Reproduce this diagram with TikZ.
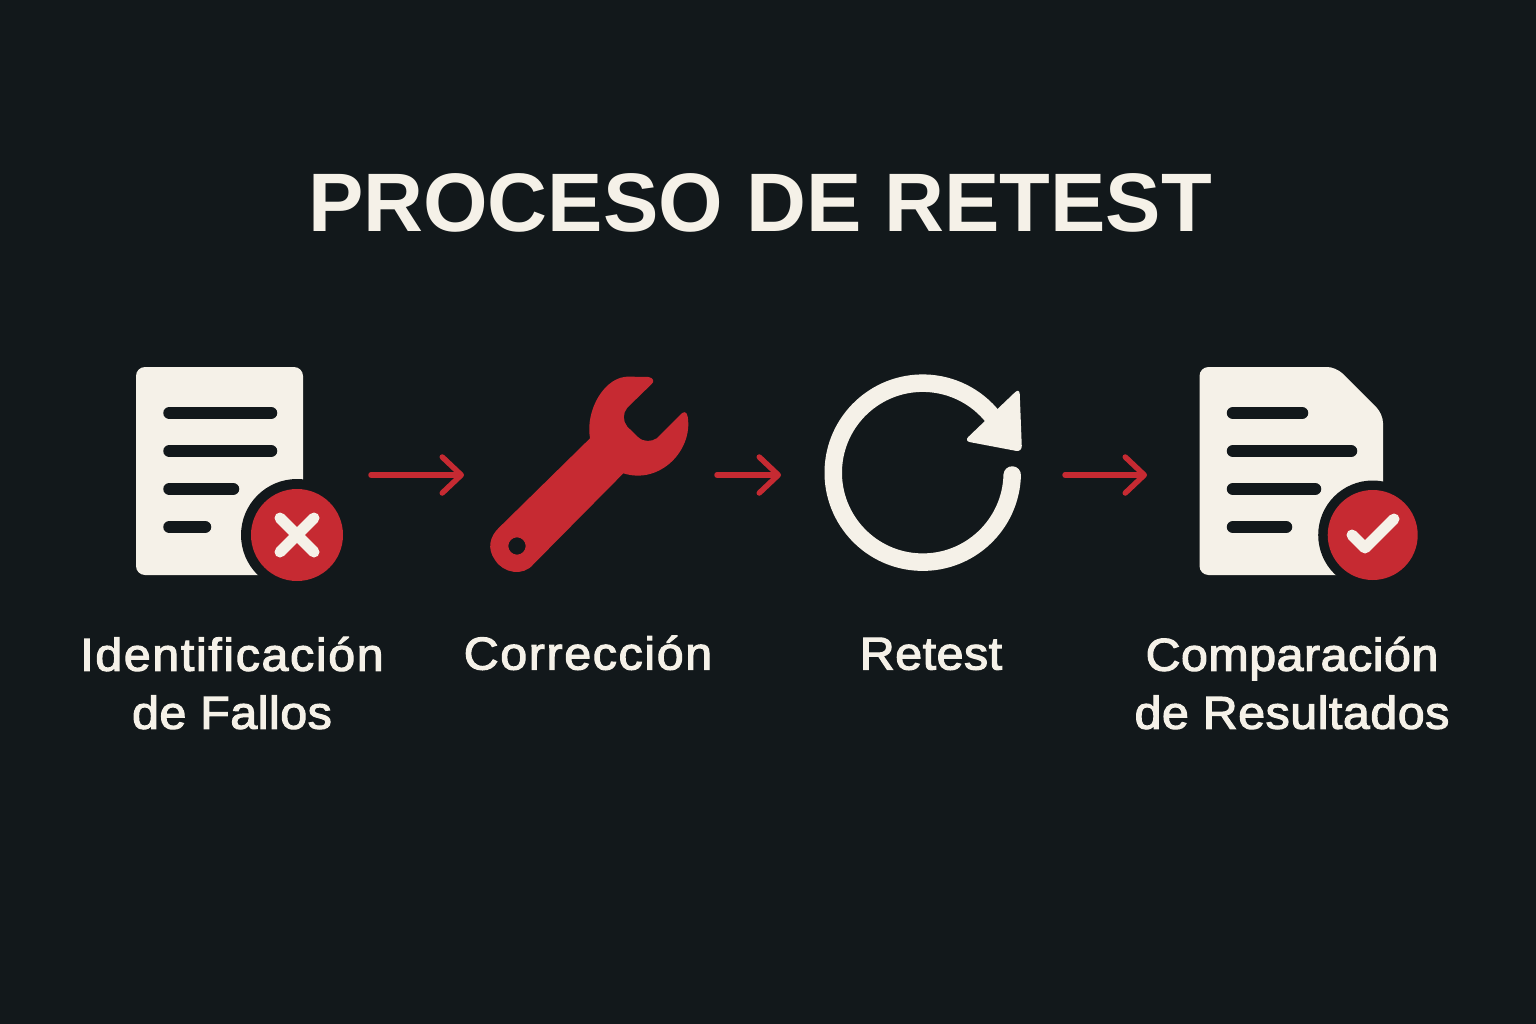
\documentclass[tikz,border=0pt]{standalone}
\usepackage{fontspec}
\setmainfont[FakeBold=2.5,FakeStretch=1.05,LetterSpace=1.2]{Liberation Sans}
\newfontfamily\widelabel[FakeBold=2.5,FakeStretch=1.05,LetterSpace=3.6]{Liberation Sans}
\newfontfamily\titlefont{Liberation Sans Bold}
\usetikzlibrary{arrows.meta}
\definecolor{bgc}{HTML}{12181B}
\definecolor{cream}{HTML}{F5F1E8}
\definecolor{redc}{HTML}{C62A32}
\tikzset{
  paper/.style={fill=cream,draw=none},
  txtline/.style={line width=12.5pt,line cap=round,draw=bgc},
  badge/.style={fill=redc,draw=none},
  halo/.style={fill=bgc,draw=none},
  glyph/.style={line width=11pt,line cap=round,line join=round,draw=cream},
  flow/.style={draw=redc,line width=5.5pt,line cap=round,-{Straight Barb[length=19pt,width=36pt,round]}},
  lbl/.style={text=cream,font=\fontsize{46}{58}\selectfont,align=center,inner sep=0pt},
  ttl/.style={text=cream,font=\fontsize{83}{90}\titlefont,inner sep=0pt,anchor=base}
}
\begin{document}
\begin{tikzpicture}[x=1pt,y=-1pt]
\useasboundingbox (0,0) rectangle (1536,1024);
\fill[bgc] (0,0) rectangle (1536,1024);
\node[ttl] (title) at (760,232) {PROCESO DE RETEST};
% document with cross
\fill[paper,rounded corners=9pt] (136,367) rectangle (303,575);
\fill[halo] (297,535) circle (56);
\fill[bgc] (303,535) rectangle (360,590);
\fill[bgc] (255,575.5) rectangle (310,590);
\draw[txtline] (169.5,413) -- (271,413);
\draw[txtline] (169.5,451) -- (271,451);
\draw[txtline] (169.5,489) -- (233,489);
\draw[txtline] (169.5,527) -- (205,527);
\fill[badge] (297,535) circle (46);
\draw[glyph] (280,518) -- (314,552);
\draw[glyph] (314,518) -- (280,552);
% wrench
\begin{scope}[shift={(470,360)},scale=1/3]
\fill[redc,even odd rule]
  (360,235) .. controls (345,150) and (405,45) .. (480,50)
  -- (535,51) .. controls (552,53) and (553,66) .. (545,72)
  -- (472,143) .. controls (458,160) and (458,183) .. (472,200)
  -- (505,232) .. controls (522,247) and (545,245) .. (560,235)
  -- (630,165) .. controls (640,154) and (650,152) .. (653,170)
  .. controls (670,270) and (570,375) .. (460,340)
  -- (190,613) .. controls (160,650) and (100,640) .. (75,600)
  .. controls (50,565) and (60,530) .. (85,505)
  -- cycle
  (141,558) circle (26);
\end{scope}
% refresh
\draw[cream,line width=17.5pt,line cap=round] (1012.2,475) arc[start angle=1.5,end angle=322,radius=89.5];
\fill[cream,rounded corners=6pt] (1019.5,388) -- (1022,452) -- (964,441) -- cycle;
% document with check
\fill[paper,rounded corners=9pt] (1199.5,367) -- (1336,367) -- (1383,414) -- (1383,575) -- (1199.5,575) -- cycle;
\fill[halo] (1372.7,535) circle (54.5);
\fill[bgc] (1383.5,535) rectangle (1430,590);
\fill[bgc] (1330,575.5) rectangle (1390,590);
\draw[txtline] (1233,413) -- (1302,413);
\draw[txtline] (1233,451) -- (1351,451);
\draw[txtline] (1233,489) -- (1315,489);
\draw[txtline] (1233,527) -- (1286,527);
\fill[badge] (1372.7,535) circle (45);
\draw[glyph] (1352,535) -- (1365,548) -- (1394,519);
% anchors and arrows
\coordinate (a1s) at (371,475); \coordinate (a1e) at (464,475);
\coordinate (a2s) at (717,475); \coordinate (a2e) at (781,475);
\coordinate (a3s) at (1065,475); \coordinate (a3e) at (1147,475);
\draw[flow] (a1s) -- (a1e);
\draw[flow] (a2s) -- (a2e);
\draw[flow] (a3s) -- (a3e);
% labels
\node[lbl] (l1) at (232,683) {{\widelabel Identificación}\\de Fallos};
\node[lbl,anchor=base] (l2) at (588,669.5) {{\widelabel Corrección}};
\node[lbl,anchor=base] (l3) at (931,669.5) {Retest};
\node[lbl] (l4) at (1292,683) {Comparación\\de Resultados};
\end{tikzpicture}
\end{document}
